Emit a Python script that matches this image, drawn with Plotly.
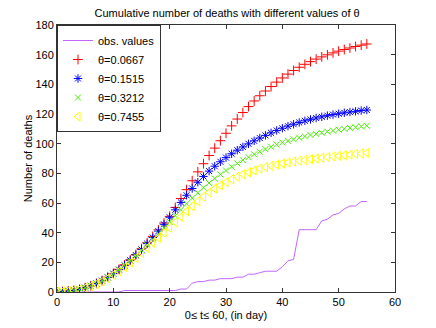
import plotly.graph_objects as go

# ── Data ─────────────────────────────
days = list(range(0, 56))

obs_values = [0, 0, 0, 0, 0, 0, 0, 0, 0, 0, 0, 0,
              1, 1, 1, 1, 1, 1, 1, 1, 1, 1,
              2, 2, 6, 7, 7, 8, 8, 9, 9, 9, 10, 10, 12, 12, 13, 14, 14, 14,
              17, 21, 22, 42, 42, 42, 42, 48, 49, 52, 53, 56, 58, 58, 61, 61]

theta_0667 = [0, 0.3, 0.7, 1.1, 1.8, 2.9, 4.2, 5.8, 7.7, 10.0, 12.5, 15.3, 18.3, 21.7,
              25.3, 29.2, 33.2, 37.5, 41.9, 46.5, 51.0, 57.0, 63.0, 69.0, 75.0, 81.0,
              86.5, 92.0, 97.0, 102.0, 107.0, 112.0, 116.6, 121.0, 125.0, 128.8, 132.3,
              135.5, 138.5, 141.5, 144.3, 146.9, 149.3, 151.5, 153.5, 155.3, 157.0,
              158.5, 159.9, 161.2, 162.4, 163.5, 164.5, 165.5, 166.4, 167.2]

theta_1515 = [0, 0.3, 0.7, 1.1, 1.8, 2.9, 4.2, 5.8, 7.6, 9.9, 12.4, 15.1, 18.0, 21.4,
              24.9, 28.7, 32.6, 36.7, 41.0, 45.6, 50.4, 55.4, 60.4, 65.2, 69.8, 74.0,
              77.9, 81.5, 84.8, 87.8, 90.6, 93.2, 95.6, 97.8, 99.9, 101.9, 103.8,
              105.6, 107.3, 108.9, 110.4, 111.8, 113.1, 114.3, 115.4, 116.4, 117.3,
              118.1, 118.9, 119.6, 120.2, 120.8, 121.3, 121.8, 122.3, 122.7]

theta_3212 = [0, 0.3, 0.7, 1.1, 1.8, 2.8, 4.1, 5.7, 7.5, 9.7, 12.2, 14.8, 17.7, 20.9,
              24.3, 27.9, 31.6, 35.4, 39.3, 43.3, 47.3, 51.4, 55.5, 59.5, 63.3, 66.9,
              70.3, 73.5, 76.5, 79.3, 81.9, 84.4, 86.7, 88.9, 90.9, 92.8, 94.6, 96.3,
              97.9, 99.4, 100.8, 101.9, 103.0, 104.0, 104.9, 105.8, 106.6, 107.4,
              108.1, 108.8, 109.4, 110.0, 110.6, 111.1, 111.6, 112.1]

theta_7455 = [0, 0.3, 0.7, 1.1, 1.7, 2.7, 3.9, 5.4, 7.1, 9.2, 11.5, 14.0, 16.8, 19.8,
              23.0, 26.3, 29.7, 33.1, 36.5, 39.9, 43.3, 47.0, 50.7, 54.4, 57.9, 61.2,
              64.3, 67.1, 69.7, 72.0, 74.1, 76.0, 77.7, 79.3, 80.7, 82.0, 83.2, 84.2,
              85.1, 85.9, 86.6, 87.3, 87.9, 88.5, 89.0, 89.5, 90.0, 90.5, 91.0, 91.4,
              91.8, 92.2, 92.6, 93.0, 93.4, 93.8]

FONT = "Liberation Sans, Arial, sans-serif"

fig = go.Figure()

fig.add_trace(go.Scatter(
    x=days, y=obs_values, mode="lines", name="obs. values",
    line=dict(color="#C266FF", width=1),
))

# (name, values, colour, marker symbol, size)
series = [
    ("θ=0.0667", theta_0667, "#FF0000", "cross-thin-open", 7),
    ("θ=0.1515", theta_1515, "#0000FF", "asterisk-open", 7),
    ("θ=0.3212", theta_3212, "#44EE00", "x-thin-open", 6),
    ("θ=0.7455", theta_7455, "#FFFF00", "triangle-left-open", 8),
]
for name, vals, col, sym, size in series:
    fig.add_trace(go.Scatter(
        x=days, y=vals, mode="markers", name=name,
        marker=dict(symbol=sym, size=size, color=col,
                    line=dict(color=col, width=1)),
    ))

axis_style = dict(
    showline=True, linecolor="#333333", linewidth=1,
    mirror="ticks", ticks="inside", ticklen=4, tickcolor="#333333",
    showgrid=False, zeroline=False, automargin=False,
    tickfont=dict(family=FONT, size=11, color="#000000"),
)

# page body adds an 8px offset, so the figure is 8px smaller than the window
fig.update_layout(
    width=428, height=320,
    paper_bgcolor="white", plot_bgcolor="white",
    margin=dict(l=49, r=41, t=17, b=36),
    font=dict(family=FONT, size=11, color="#000000"),
    title=dict(text="Cumulative number of deaths with different values of θ",
               x=0.512, xanchor="center", y=0.985, yanchor="middle",
               font=dict(family=FONT, size=11)),
    showlegend=True,
    legend=dict(x=0, y=1, xanchor="left", yanchor="top",
                bordercolor="#333333", borderwidth=1, bgcolor="white",
                font=dict(family=FONT, size=11), itemwidth=30,
                tracegroupgap=0, itemsizing="trace"),
)
fig.update_xaxes(range=[0, 60], dtick=10,
                 title=dict(text="0≤ t≤ 60, (in day)", standoff=4,
                            font=dict(family=FONT, size=11)),
                 **axis_style)
fig.update_yaxes(range=[0, 180], dtick=20,
                 title=dict(text="Number of deaths", standoff=0,
                            font=dict(family=FONT, size=11)),
                 **axis_style)

fig.write_html("out.html")
